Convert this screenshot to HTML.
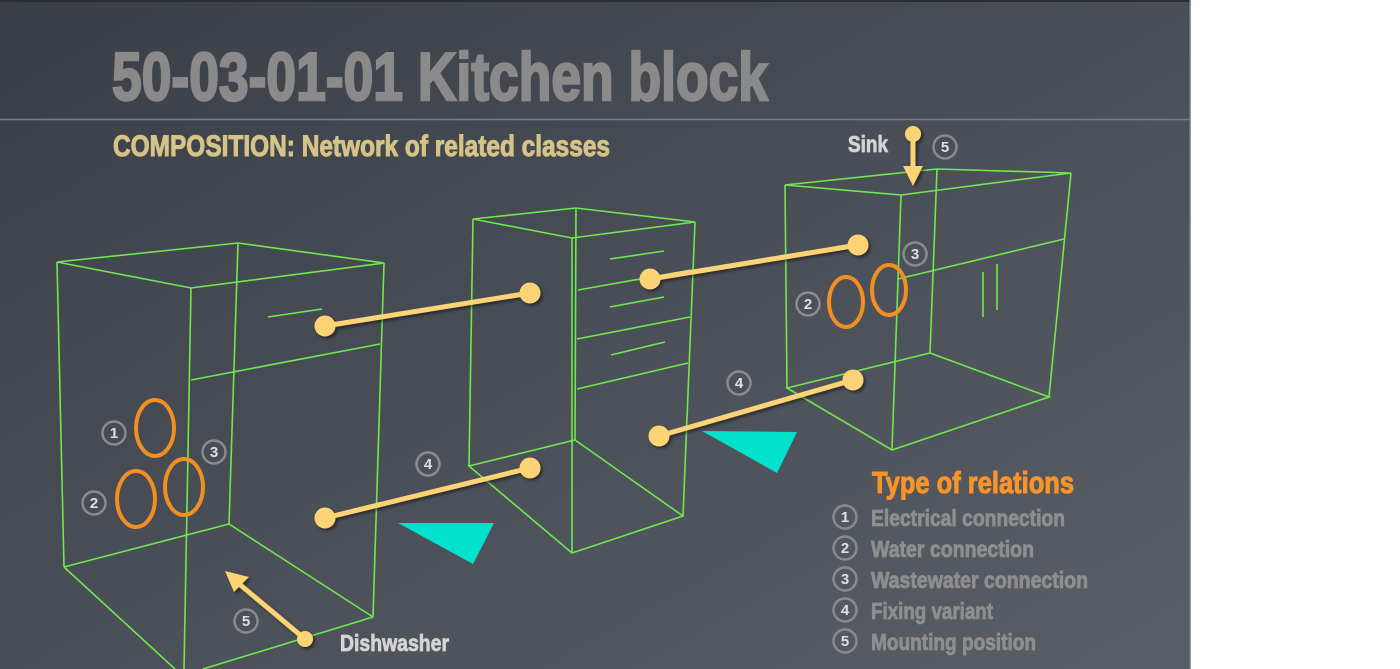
<!DOCTYPE html>
<html><head><meta charset="utf-8"><style>
html,body{margin:0;padding:0;background:#fff;}
svg{display:block;}
text{font-family:"Liberation Sans Narrow","Liberation Sans",sans-serif;font-weight:bold;}
</style></head><body>
<svg width="1400" height="669" viewBox="0 0 1400 669" xmlns="http://www.w3.org/2000/svg">
<defs>
<linearGradient id="bg" x1="0" y1="0" x2="1" y2="1">
<stop offset="0" stop-color="#3a3f47"/><stop offset="1" stop-color="#5a5f67"/>
</linearGradient>
<filter id="sh" x="-20%" y="-20%" width="140%" height="140%"><feDropShadow dx="2" dy="2" stdDeviation="1.5" flood-color="#000" flood-opacity="0.5"/></filter>
</defs>
<rect x="0" y="0" width="1400" height="669" fill="#fff"/>
<rect x="0" y="0" width="1190" height="669" fill="url(#bg)"/>
<rect x="0" y="0" width="1190" height="2" fill="#2a2d31"/>
<line x1="1190" y1="0" x2="1190" y2="669" stroke="#777" stroke-width="1.5"/>
<line x1="0" y1="119.5" x2="1190" y2="119.5" stroke="#7a7e84" stroke-width="1.5"/>
<text x="112" y="100" font-size="68" fill="#8a8a8a" stroke="#8a8a8a" stroke-width="2.5" textLength="656" lengthAdjust="spacingAndGlyphs">50-03-01-01 Kitchen block</text>
<text x="113" y="156" font-size="30" fill="#d5c387" stroke="#d5c387" stroke-width="1" textLength="497" lengthAdjust="spacingAndGlyphs">COMPOSITION: Network of related classes</text>

<g stroke="#6fe84f" stroke-width="1.6" fill="none">
<polygon points="57,262 238,243 384,263 191,288"/>
<line x1="57" y1="262" x2="64" y2="567"/><line x1="238" y1="243" x2="229" y2="524"/>
<line x1="384" y1="263" x2="373" y2="617"/><line x1="191" y1="288" x2="184" y2="669"/>
<line x1="64" y1="567" x2="229" y2="524"/><line x1="229" y1="524" x2="373" y2="617"/>
<line x1="64" y1="567" x2="175" y2="669"/><line x1="373" y1="617" x2="203" y2="669"/>
<line x1="191" y1="380" x2="380" y2="344"/><line x1="268" y1="317" x2="322" y2="309"/>
<polygon points="473,219 576,208 695,222 572,238"/>
<line x1="473" y1="219" x2="469" y2="466"/><line x1="576" y1="208" x2="575" y2="440"/>
<line x1="695" y1="222" x2="683" y2="516"/><line x1="572" y1="238" x2="572" y2="553"/>
<polygon points="469,466 575,440 683,516 572,553"/>
<line x1="578" y1="290" x2="691" y2="270"/><line x1="577" y1="339" x2="690" y2="317"/><line x1="577" y1="389" x2="688" y2="363"/>
<line x1="610" y1="259" x2="664" y2="251"/><line x1="610" y1="307" x2="664" y2="297"/><line x1="611" y1="355" x2="665" y2="342"/>
<polygon points="785,185 937,169 1071,173 901,195"/>
<line x1="785" y1="185" x2="787" y2="388"/><line x1="937" y1="169" x2="930" y2="353"/>
<line x1="1071" y1="173" x2="1049" y2="397"/><line x1="901" y1="195" x2="892" y2="450"/>
<polygon points="787,388 930,353 1049,397 892,450"/>
<line x1="898" y1="279" x2="1064" y2="239"/>
<line x1="983" y1="272" x2="983" y2="317"/><line x1="997" y1="264" x2="997" y2="310"/>
</g>

<polygon points="398,523 494,523 473,564" fill="#00e2cc"/>
<polygon points="702,431 797,432 777,473" fill="#00e2cc"/>

<g fill="none" stroke="#f28f22" stroke-width="4">
<ellipse cx="155" cy="428" rx="19" ry="28"/>
<ellipse cx="136" cy="499" rx="19" ry="28"/>
<ellipse cx="184" cy="487" rx="19" ry="28"/>
<ellipse cx="846" cy="302" rx="17" ry="25"/>
<ellipse cx="889" cy="290" rx="17" ry="25"/>
</g>

<g stroke="#fdd474" stroke-width="5" fill="#fdd474" filter="url(#sh)">
<line x1="325" y1="326" x2="530" y2="293"/><circle cx="325" cy="326" r="8"/><circle cx="530" cy="293" r="8"/>
<line x1="325" y1="518" x2="530" y2="468"/><circle cx="325" cy="518" r="8"/><circle cx="530" cy="468" r="8"/>
<line x1="650" y1="279" x2="858" y2="245"/><circle cx="650" cy="279" r="8"/><circle cx="858" cy="245" r="8"/>
<line x1="659" y1="436" x2="853" y2="380"/><circle cx="659" cy="436" r="8"/><circle cx="853" cy="380" r="8"/>
<line x1="305" y1="639" x2="238" y2="583"/><circle cx="305" cy="639" r="8" stroke="none"/>
<polygon points="225,571 249,577 234,592" stroke="none"/>
<line x1="913" y1="134" x2="913" y2="170"/><circle cx="913" cy="134" r="8" stroke="none"/>
<polygon points="913,186 903,166 923,166" stroke="none"/>
</g>

<text x="340" y="651" font-size="23" fill="#d4d4d4" stroke="#d4d4d4" stroke-width="0.8" textLength="109" lengthAdjust="spacingAndGlyphs">Dishwasher</text>
<text x="848" y="152" font-size="23" fill="#d4d4d4" stroke="#d4d4d4" stroke-width="0.8" textLength="40" lengthAdjust="spacingAndGlyphs">Sink</text>

<g font-family="Liberation Sans,sans-serif" font-size="15" font-weight="bold" fill="#e0e0e0" text-anchor="middle">
<g fill="none" stroke="#8a8a8a" stroke-width="2.5">
<circle cx="114" cy="433" r="11.5"/><circle cx="94" cy="503" r="11.5"/><circle cx="214" cy="452" r="11.5"/>
<circle cx="428" cy="464" r="11.5"/><circle cx="246" cy="621" r="11.5"/><circle cx="739" cy="383" r="11.5"/>
<circle cx="808" cy="304" r="11.5"/><circle cx="915" cy="254" r="11.5"/><circle cx="945" cy="147" r="11.5"/>
<circle cx="845" cy="517" r="11.5"/><circle cx="845" cy="548" r="11.5"/><circle cx="845" cy="579" r="11.5"/><circle cx="845" cy="610" r="11.5"/><circle cx="845" cy="641" r="11.5"/>
</g>
<text x="114" y="438">1</text><text x="94" y="508">2</text><text x="214" y="457">3</text>
<text x="428" y="469">4</text><text x="246" y="626">5</text><text x="739" y="388">4</text>
<text x="808" y="309">2</text><text x="915" y="259">3</text><text x="945" y="152">5</text>
<text x="845" y="522">1</text><text x="845" y="553">2</text><text x="845" y="584">3</text><text x="845" y="615">4</text><text x="845" y="646">5</text>
</g>

<text x="872" y="493" font-size="31" fill="#fb9426" stroke="#fb9426" stroke-width="1" textLength="202" lengthAdjust="spacingAndGlyphs">Type of relations</text>
<g font-size="23" fill="#8e8e8e" stroke="#8e8e8e" stroke-width="0.8">
<text x="871" y="526" textLength="194" lengthAdjust="spacingAndGlyphs">Electrical connection</text>
<text x="871" y="557" textLength="163" lengthAdjust="spacingAndGlyphs">Water connection</text>
<text x="871" y="588" textLength="217" lengthAdjust="spacingAndGlyphs">Wastewater connection</text>
<text x="871" y="619" textLength="122" lengthAdjust="spacingAndGlyphs">Fixing variant</text>
<text x="871" y="650" textLength="165" lengthAdjust="spacingAndGlyphs">Mounting position</text>
</g>
</svg>
</body></html>
